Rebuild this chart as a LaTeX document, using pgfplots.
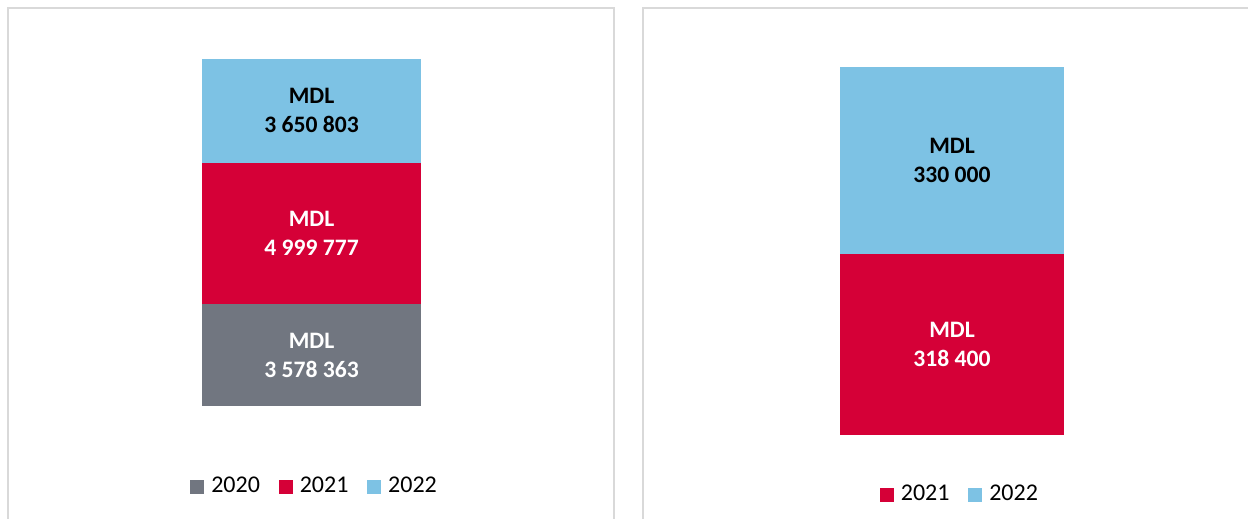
\documentclass[border=0pt]{standalone}
\usepackage{pgfplots}
\pgfplotsset{compat=1.18}
\usepackage{fontspec}
\setmainfont{Carlito}
\definecolor{cgray}{HTML}{717680}
\definecolor{cred}{HTML}{D50037}
\definecolor{cblue}{HTML}{7DC2E4}
\definecolor{cframe}{HTML}{D9D9D9}

\pgfplotsset{
  sqleg/.style={legend image code/.code={\fill[##1] (0pt,-3.5pt) rectangle (7pt,3.5pt);}},
  panel/.style={
    scale only axis, axis lines=none, xtick=\empty, ytick=\empty,
    xmin=-1, xmax=1, ymin=0,
    legend columns=-1,
    legend style={draw=none, fill=none, font=\fontsize{12}{13}\selectfont,
      /tikz/every odd column/.append style={column sep=1.6pt},
      /tikz/every even column/.append style={column sep=7.3pt}},
  },
}
\tikzset{lab/.style={align=center, font=\bfseries\fontsize{11.8}{14.5}\selectfont}}
\begin{document}
\begin{tikzpicture}
\clip (0,0) rectangle (624pt,259.5pt);
% panel frames
\draw[cframe, line width=1pt] (3.75pt,-20pt) -- (3.75pt,255.25pt) -- (306.75pt,255.25pt) -- (306.75pt,-20pt);
\draw[cframe, line width=1pt] (321.25pt,-20pt) -- (321.25pt,255.25pt) -- (650pt,255.25pt);

% left chart
\begin{axis}[ybar stacked, panel, at={(51pt,56.5pt)}, anchor=south west,
  width=209.5pt, height=173.5pt, ymax=12228943, bar width=109.5pt,
  legend style={at={(0.5095,-0.232)}, anchor=center}]
\addplot[fill=cgray, draw=none, sqleg] coordinates {(0,3578363)};
\addplot[fill=cred, draw=none, sqleg] coordinates {(0,4999777)};
\addplot[fill=cblue, draw=none, sqleg] coordinates {(0,3650803)};
\legend{2020,2021,2022}
\coordinate (a1) at (axis cs:0,1789181.5);
\coordinate (a2) at (axis cs:0,6078251.5);
\coordinate (a3) at (axis cs:0,10403541.5);
\end{axis}
\node[lab, white] at (a1) {MDL\\3 578 363};
\node[lab, white] at (a2) {MDL\\4 999 777};
\node[lab, black] at (a3) {MDL\\3 650 803};

% right chart
\begin{axis}[ybar stacked, panel, at={(371pt,42pt)}, anchor=south west,
  width=210pt, height=184pt, ymax=648400, bar width=112pt,
  legend style={at={(0.521,-0.1617)}, anchor=center}]
\addplot[fill=cred, draw=none, sqleg] coordinates {(0,318400)};
\addplot[fill=cblue, draw=none, sqleg] coordinates {(0,330000)};
\legend{2021,2022}
\coordinate (b1) at (axis cs:0,159200);
\coordinate (b2) at (axis cs:0,483400);
\end{axis}
\node[lab, white] at (b1) {MDL\\318 400};
\node[lab, black] at (b2) {MDL\\330 000};
\end{tikzpicture}
\end{document}
